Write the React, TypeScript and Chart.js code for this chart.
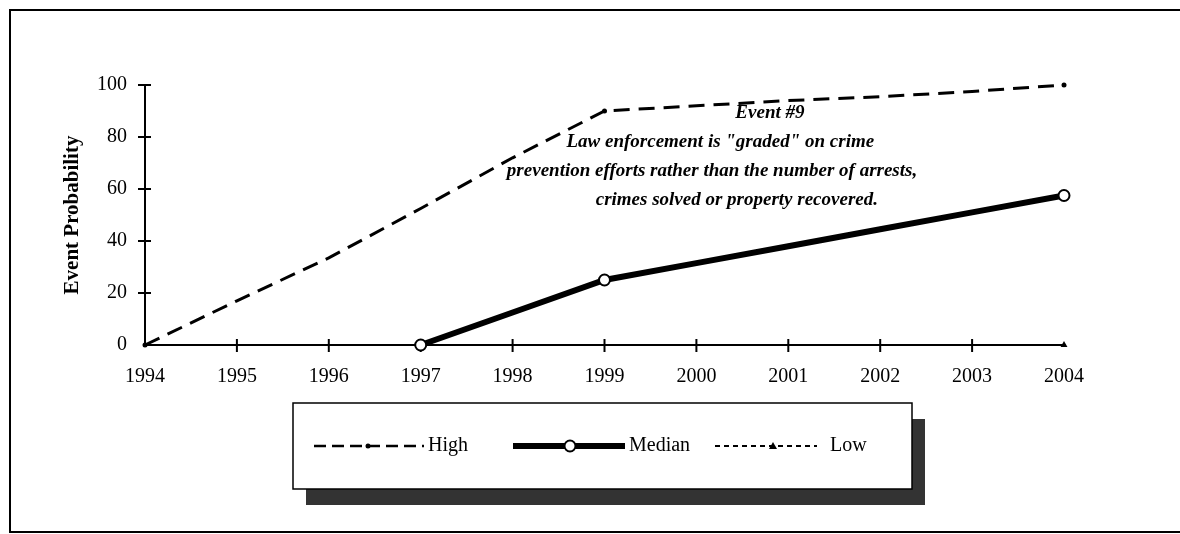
import React, { useEffect, useRef } from "react";
import { Chart, registerables } from "chart.js";

Chart.register(...registerables);

const years = ["1994", "1995", "1996", "1997", "1998", "1999", "2000", "2001", "2002", "2003", "2004"];
const yTickValues = [0, 20, 40, 60, 80, 100];
const highValues = [0, 17, 33.5, 52.5, 72, 90, 92, 94, 95.5, 97.5, 100];
const medianValues = [null, null, null, 0, 12.5, 25, 31.5, 38, 44.5, 51, 57.5];
const lowValues = [0, 0, 0, 0, 0, 0, 0, 0, 0, 0, 0];
const highMarkerAt = ["1994", "1999", "2004"];
const medianMarkerAt = ["1997", "1999", "2004"];
const lowMarkerAt = ["2004"];
const seriesNames = ["High", "Median", "Low"];
const yAxisTitle = "Event Probability";
const annotationLines = [
  "Event #9",
  "Law enforcement is \"graded\" on crime",
  "prevention efforts rather than the number of arrests,",
  "crimes solved or property recovered.",
];

const SERIF = "'Liberation Serif', 'Times New Roman', serif";

// anchors for the annotation lines, in data units (category index, value)
const annotationAnchors = [
  [6.8, 89.2],
  [6.26, 78.1],
  [6.17, 66.9],
  [6.44, 55.8],
];

const decorPlugin = {
  id: "decor",
  beforeDatasetsDraw(chart: any) {
    const { ctx, chartArea, scales } = chart;
    const x = scales.x;
    const y = scales.y;
    ctx.save();
    ctx.strokeStyle = "#000";
    ctx.lineWidth = 2;
    ctx.beginPath();
    ctx.moveTo(chartArea.left, chartArea.top);
    ctx.lineTo(chartArea.left, chartArea.bottom);
    ctx.lineTo(chartArea.right, chartArea.bottom);
    ctx.stroke();
    yTickValues.forEach((v) => {
      if (v === 0) return;
      const py = y.getPixelForValue(v);
      ctx.beginPath();
      ctx.moveTo(chartArea.left - 7, py);
      ctx.lineTo(chartArea.left + 6, py);
      ctx.stroke();
    });
    years.forEach((_, i) => {
      if (i === 0 || i === years.length - 1) return;
      const px = x.getPixelForValue(i);
      ctx.beginPath();
      ctx.moveTo(px, chartArea.bottom - 6);
      ctx.lineTo(px, chartArea.bottom + 7);
      ctx.stroke();
    });
    ctx.restore();
  },
  afterDraw(chart: any) {
    const { ctx, chartArea, scales, width, height } = chart;
    const x = scales.x;
    const y = scales.y;
    ctx.save();

    // outer frame
    ctx.strokeStyle = "#000";
    ctx.lineWidth = 2;
    ctx.beginPath();
    ctx.moveTo(width, 10);
    ctx.lineTo(10, 10);
    ctx.lineTo(10, height - 2);
    ctx.lineTo(width, height - 2);
    ctx.stroke();

    // annotation
    ctx.fillStyle = "#000";
    ctx.font = `italic bold 19px ${SERIF}`;
    ctx.textAlign = "center";
    ctx.textBaseline = "middle";
    annotationLines.forEach((line, i) => {
      const [ax, ay] = annotationAnchors[i];
      ctx.fillText(line, x.getPixelForValue(ax), y.getPixelForValue(ay));
    });

    // legend box with shadow
    const bl = chartArea.left + 148;
    const br = chartArea.left + 767;
    const bt = chartArea.bottom + 58;
    const bb = chartArea.bottom + 144;
    ctx.fillStyle = "#333333";
    ctx.fillRect(bl + 13, bt + 16, br - bl, bb - bt);
    ctx.fillStyle = "#fff";
    ctx.fillRect(bl, bt, br - bl, bb - bt);
    ctx.strokeStyle = "#000";
    ctx.lineWidth = 1.5;
    ctx.strokeRect(bl, bt, br - bl, bb - bt);

    const ly = chartArea.bottom + 101;
    ctx.font = `20px ${SERIF}`;
    ctx.textAlign = "left";
    ctx.textBaseline = "middle";
    ctx.fillStyle = "#000";

    // High sample
    const h0 = bl + 21;
    ctx.lineWidth = 2.5;
    ctx.setLineDash([12, 6]);
    ctx.beginPath();
    ctx.moveTo(h0, ly);
    ctx.lineTo(h0 + 110, ly);
    ctx.stroke();
    ctx.setLineDash([]);
    ctx.beginPath();
    ctx.arc(h0 + 54, ly, 2.5, 0, Math.PI * 2);
    ctx.fill();
    ctx.fillText(seriesNames[0], h0 + 114, ly);

    // Median sample
    const m0 = bl + 220;
    ctx.lineWidth = 6;
    ctx.beginPath();
    ctx.moveTo(m0, ly);
    ctx.lineTo(m0 + 112, ly);
    ctx.stroke();
    ctx.beginPath();
    ctx.arc(m0 + 57, ly, 5.5, 0, Math.PI * 2);
    ctx.fillStyle = "#fff";
    ctx.fill();
    ctx.lineWidth = 2;
    ctx.stroke();
    ctx.fillStyle = "#000";
    ctx.fillText(seriesNames[1], m0 + 116, ly);

    // Low sample
    const l0 = bl + 422;
    ctx.lineWidth = 2;
    ctx.setLineDash([5, 4]);
    ctx.beginPath();
    ctx.moveTo(l0, ly);
    ctx.lineTo(l0 + 102, ly);
    ctx.stroke();
    ctx.setLineDash([]);
    ctx.beginPath();
    ctx.moveTo(l0 + 58, ly - 4);
    ctx.lineTo(l0 + 62, ly + 3);
    ctx.lineTo(l0 + 54, ly + 3);
    ctx.closePath();
    ctx.fill();
    ctx.fillText(seriesNames[2], l0 + 115, ly);

    ctx.restore();
  },
};

export default function App() {
  const canvasRef = useRef<HTMLCanvasElement | null>(null);

  useEffect(() => {
    if (!canvasRef.current) return;
    const chart = new Chart(canvasRef.current, {
      type: "line",
      data: {
        labels: years,
        datasets: [
          {
            label: seriesNames[1],
            data: medianValues,
            borderColor: "#000",
            borderWidth: 6,
            pointRadius: years.map((yr) => (medianMarkerAt.includes(yr) ? 5.5 : 0)),
            pointBackgroundColor: "#fff",
            pointBorderColor: "#000",
            pointBorderWidth: 2,
            tension: 0,
            spanGaps: false,
          },
          {
            label: seriesNames[0],
            data: highValues,
            borderColor: "#000",
            borderWidth: 3,
            borderDash: [16, 9],
            pointRadius: years.map((yr) => (highMarkerAt.includes(yr) ? 2.5 : 0)),
            pointBackgroundColor: "#000",
            pointBorderColor: "#000",
            pointBorderWidth: 0,
            tension: 0,
          },
          {
            label: seriesNames[2],
            data: lowValues,
            borderColor: "#000",
            borderWidth: 1.5,
            borderDash: [5, 4],
            pointStyle: "triangle",
            pointRadius: years.map((yr) => (lowMarkerAt.includes(yr) ? 4 : 0)),
            pointBackgroundColor: "#000",
            pointBorderColor: "#000",
            pointBorderWidth: 0,
            tension: 0,
          },
        ],
      },
      options: {
        animation: false,
        responsive: false,
        devicePixelRatio: 1,
        clip: false,
        layout: { padding: { left: 60, right: 116, top: 85, bottom: 139 } },
        plugins: {
          legend: { display: false },
          tooltip: { enabled: false },
        },
        scales: {
          x: {
            type: "category",
            offset: false,
            grid: { display: false, drawTicks: false },
            border: { display: false },
            ticks: {
              color: "#000",
              font: { family: SERIF, size: 20 },
              padding: 20,
              maxRotation: 0,
              autoSkip: false,
            },
            afterFit: (s: any) => {
              s.height = 50;
            },
          },
          y: {
            min: 0,
            max: 100,
            grid: { display: false, drawTicks: false },
            border: { display: false },
            ticks: {
              stepSize: 20,
              color: "#000",
              font: { family: SERIF, size: 20 },
              padding: 18,
            },
            title: {
              display: true,
              text: yAxisTitle,
              color: "#000",
              font: { family: SERIF, size: 21, weight: "bold" },
              padding: 0,
            },
            afterFit: (s: any) => {
              s.width = 85;
            },
          },
        },
      },
      plugins: [decorPlugin],
    } as any);
    return () => chart.destroy();
  }, []);

  return (
    <div style={{ position: "fixed", left: 0, top: 0, width: 1180, height: 534, background: "#fff" }}>
      <canvas ref={canvasRef} width={1180} height={534} />
    </div>
  );
}
